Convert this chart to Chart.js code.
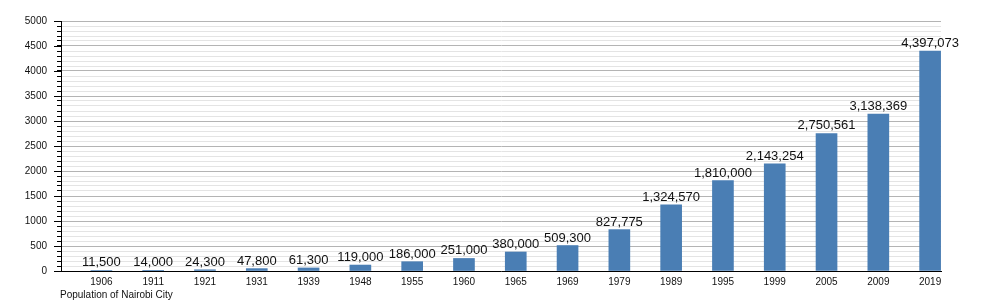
<!DOCTYPE html>
<html>
<head>
<meta charset="utf-8">
<script src="https://cdn.jsdelivr.net/npm/chart.js@4/dist/chart.umd.min.js"></script>
<style>
  html, body { margin: 0; padding: 0; background: #fff; }
  #wrap { width: 1000px; height: 300px; }
</style>
</head>
<body>
<div id="wrap"><canvas id="popChart" width="1000" height="300"></canvas></div>
<script>
// datos: población de Nairobi por año de censo
const years = ['1906', '1911', '1921', '1931', '1939', '1948', '1955', '1960', '1965',
               '1969', '1979', '1989', '1995', '1999', '2005', '2009', '2019'];
const population = [11500, 14000, 24300, 47800, 61300, 119000, 186000, 251000, 380000,
                    509300, 827775, 1324570, 1810000, 2143254, 2750561, 3138369, 4397073];
const yTicks = [0, 500, 1000, 1500, 2000, 2500, 3000, 3500, 4000, 4500, 5000];
const chartTitle = 'Population of Nairobi City';

const FONT = '"Liberation Sans", Arial, sans-serif';

// etiquetas de valor encima de cada barra
const valueLabels = {
    id: 'valueLabels',
    afterDatasetsDraw(chart) {
        const ctx = chart.ctx;
        const meta = chart.getDatasetMeta(0);
        ctx.save();
        ctx.font = '13px ' + FONT;
        ctx.fillStyle = '#111';
        ctx.textAlign = 'center';
        ctx.textBaseline = 'alphabetic';
        meta.data.forEach((bar, i) => {
            ctx.fillText(population[i].toLocaleString('en-US'), bar.x, bar.y - 4);
        });
        ctx.restore();
    }
};

// marcas largas en los valores principales del eje y + título abajo
const extras = {
    id: 'extras',
    afterDraw(chart) {
        const ctx = chart.ctx;
        const y = chart.scales.y;
        const left = chart.chartArea.left;
        ctx.save();
        ctx.strokeStyle = '#000';
        ctx.lineWidth = 1;
        yTicks.forEach(v => {
            const py = Math.round(y.getPixelForValue(v)) + 0.5;
            ctx.beginPath();
            ctx.moveTo(left - 7, py);
            ctx.lineTo(left, py);
            ctx.stroke();
        });
        ctx.font = '10px ' + FONT;
        ctx.fillStyle = '#111';
        ctx.textAlign = 'left';
        ctx.fillText(chartTitle, left - 1, 298);
        ctx.restore();
    }
};

new Chart(document.getElementById('popChart'), {
    type: 'bar',
    data: {
        datasets: [{
            data: population.map((p, i) => ({ x: i, y: p / 1000 })),
            backgroundColor: '#4a7eb4',
            barThickness: 21
        }]
    },
    options: {
        responsive: false,
        animation: false,
        layout: { padding: { top: 21, right: 59, bottom: 0, left: 0 } },
        plugins: { legend: { display: false }, tooltip: { enabled: false } },
        scales: {
            x: {
                type: 'linear',
                offset: false,
                min: -0.78,
                max: 16.21,
                afterBuildTicks: axis => { axis.ticks = years.map((y, i) => ({ value: i })); },
                afterFit: axis => { axis.height = 29; },
                grid: { display: false, drawTicks: false },
                border: { color: '#000', width: 1 },
                ticks: {
                    autoSkip: false,
                    maxRotation: 0,
                    padding: 5,
                    color: '#111',
                    font: { family: FONT, size: 10 },
                    callback: v => years[v] || ''
                }
            },
            y: {
                min: 0,
                max: 5000,
                afterBuildTicks: axis => {
                    const t = [];
                    for (let v = 0; v <= 5000; v += 100) t.push({ value: v });
                    axis.ticks = t;
                },
                afterFit: axis => { axis.width = 61; },
                grid: {
                    color: c => (c.tick && c.tick.value % 500 === 0) ? '#b4b4b4' : '#e4e4e4',
                    tickColor: '#000',
                    tickLength: 4,
                    drawTicks: true
                },
                border: { color: '#000', width: 1 },
                ticks: {
                    autoSkip: false,
                    padding: 10,
                    color: '#111',
                    font: { family: FONT, size: 10 },
                    callback: v => yTicks.includes(v) ? String(v) : ''
                }
            }
        }
    },
    plugins: [valueLabels, extras]
});
</script>
</body>
</html>
